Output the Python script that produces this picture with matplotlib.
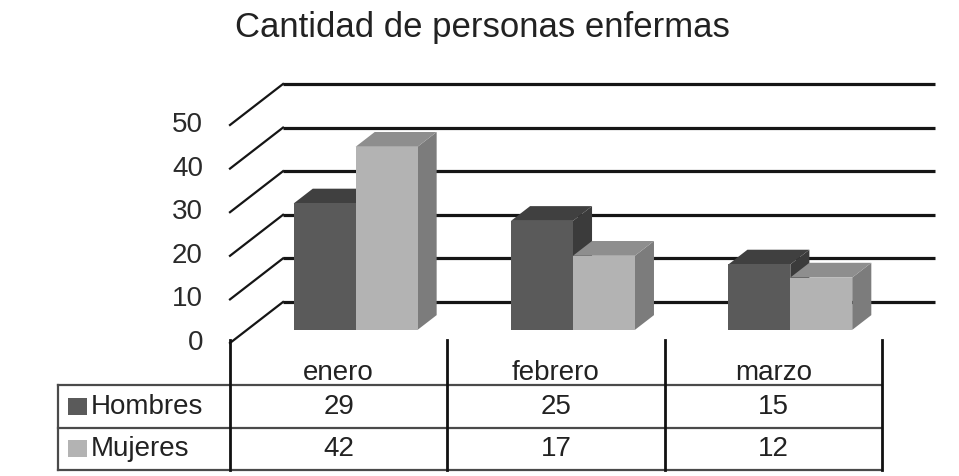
import matplotlib.pyplot as plt
from matplotlib.patches import Polygon, Rectangle

plt.rcParams['font.family'] = ['Liberation Sans', 'DejaVu Sans']

## data
meses = ['enero', 'febrero', 'marzo']
series = ['Hombres', 'Mujeres']
hombres = [29, 25, 15]
mujeres = [42, 17, 12]
ticks = [0, 10, 20, 30, 40, 50]

# colours: front, top, side
colores = {
    'Hombres': ('#5a5a5a', '#404040', '#3b3b3b'),
    'Mujeres': ('#b3b3b3', '#8e8e8e', '#7c7c7c'),
}

W, H = 959, 476
fig = plt.figure(figsize=(W / 100, H / 100), dpi=100)
fig.patch.set_facecolor('white')

# main (front plane) axes: floor at y=343 px, x from 230 to 882 px
ax = fig.add_axes([230 / W, (H - 343) / H, 652 / W, 218 / H])
ax.set_xlim(-0.5, len(meses) - 0.5)
ax.set_ylim(0, 50)
ax.axis('off')

# depth of the 3D box converted to data units
p0 = ax.transData.transform((0, 0))
p1 = ax.transData.transform((1, 1))
sx, sy = p1[0] - p0[0], p1[1] - p0[1]
DX, DY = 53 / sx, 41 / sy

x_left, x_right = -0.5, len(meses) - 0.5

# back wall gridlines + slanted side lines
for v in ticks:
    ax.plot([x_left + DX, x_right + DX], [v + DY, v + DY], color='#151515',
            lw=2.3, clip_on=False, zorder=1, solid_capstyle='butt')
    ax.plot([x_left, x_left + DX], [v, v + DY], color='#151515',
            lw=1.6, clip_on=False, zorder=1)
    ax.text(x_left - 27 / sx, v, str(v), ha='right', va='center',
            fontsize=20, color='#2a2a2a', clip_on=False)


def barra3d(x0, w, h, cols):
    f0, f1 = 0.32, 0.68
    ox, oy = f0 * DX, f0 * DY
    bx, by = f1 * DX, f1 * DY
    front, top, side = cols
    # side
    ax.add_patch(Polygon([(x0 + w + ox, oy), (x0 + w + bx, by),
                          (x0 + w + bx, h + by), (x0 + w + ox, h + oy)],
                         closed=True, facecolor=side, edgecolor='none',
                         clip_on=False, zorder=3))
    # top
    ax.add_patch(Polygon([(x0 + ox, h + oy), (x0 + w + ox, h + oy),
                          (x0 + w + bx, h + by), (x0 + bx, h + by)],
                         closed=True, facecolor=top, edgecolor='none',
                         clip_on=False, zorder=3))
    # front
    ax.add_patch(Rectangle((x0 + ox, oy), w, h, facecolor=front,
                           edgecolor='none', clip_on=False, zorder=3))


bw = 0.285
for i in range(len(meses)):
    barra3d(i - bw, bw, hombres[i], colores['Hombres'])
    barra3d(i, bw, mujeres[i], colores['Mujeres'])

# title
fig.text(482 / W, 1 - 37 / H, 'Cantidad de personas enfermas', ha='center',
         va='baseline', fontsize=25, color='#222222')

## data table below the plot
label_w = 172 / sx
tax = fig.add_axes([58 / W, (H - 470) / H, 824 / W, 127 / H])
tax.set_xlim(x_left - label_w, x_right)
tax.set_ylim(3, 0)
tax.axis('off')

tl = x_left - label_w
for r in [1, 2, 3]:
    tax.plot([tl, x_right], [r, r], color='#4a4a4a', lw=1.6, clip_on=False)
tax.plot([tl, tl], [1, 3], color='#4a4a4a', lw=1.6, clip_on=False)
for k in range(len(meses) + 1):
    xv = x_left + k
    tax.plot([xv, xv], [-0.07, 3], color='#111111', lw=2.0, clip_on=False)

for i, m in enumerate(meses):
    tax.text(i, 0.7, m, ha='center', va='center', fontsize=20, color='#222222')
    tax.text(i, 1.5, str(hombres[i]), ha='center', va='center', fontsize=20,
             color='#222222')
    tax.text(i, 2.5, str(mujeres[i]), ha='center', va='center', fontsize=20,
             color='#222222')

sw_w = 19 / sx
for j, s in enumerate(series):
    yc = 1.5 + j
    tax.add_patch(Rectangle((tl + 10 / sx, yc - 0.2), sw_w, 0.4,
                            facecolor=colores[s][0], edgecolor='none'))
    tax.text(tl + 33 / sx, yc, s, ha='left', va='center', fontsize=20,
             color='#222222')

plt.savefig('out.png', dpi=100)
